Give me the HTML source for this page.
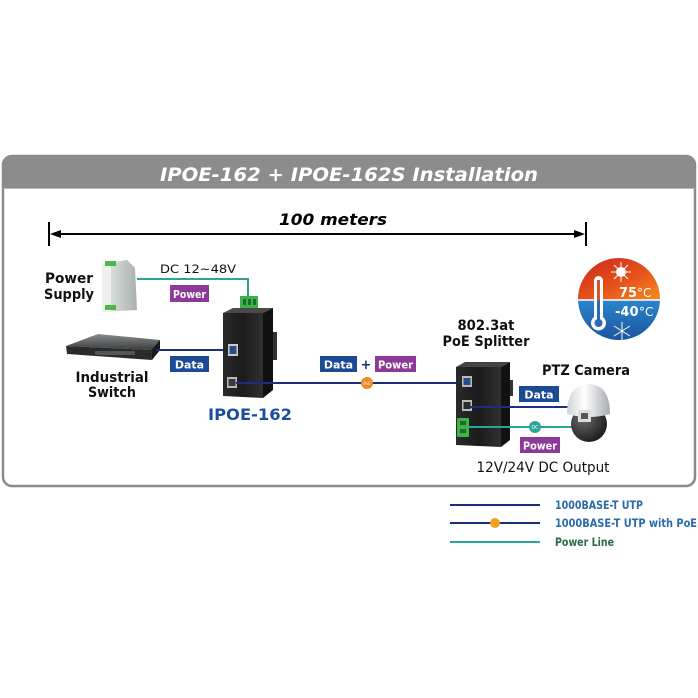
<!DOCTYPE html>
<html><head><meta charset="utf-8"><style>
html,body{margin:0;padding:0;background:#fff;}
svg{display:block;}
text{font-family:"DejaVu Sans","Liberation Sans",sans-serif;}
</style></head><body>
<svg width="698" height="698" viewBox="0 0 698 698" xmlns="http://www.w3.org/2000/svg">
<defs>
<linearGradient id="hot" x1="0" y1="0" x2="1" y2="1"><stop offset="0" stop-color="#c8201c"/><stop offset="0.6" stop-color="#e8561c"/><stop offset="1" stop-color="#f4921e"/></linearGradient>
<linearGradient id="cold" x1="0" y1="0" x2="0" y2="1"><stop offset="0" stop-color="#2a86cc"/><stop offset="1" stop-color="#1a4f98"/></linearGradient>
<linearGradient id="psu" x1="0" y1="0" x2="1" y2="0"><stop offset="0" stop-color="#e4e8e6"/><stop offset="0.5" stop-color="#c9cfcc"/><stop offset="1" stop-color="#a9b0ad"/></linearGradient>
<linearGradient id="dev" x1="0" y1="0" x2="1" y2="0"><stop offset="0" stop-color="#2a2a2a"/><stop offset="0.5" stop-color="#1b1b1b"/><stop offset="1" stop-color="#303030"/></linearGradient>
<linearGradient id="dome" x1="0" y1="0" x2="1" y2="0"><stop offset="0" stop-color="#cfd2d4"/><stop offset="0.4" stop-color="#ffffff"/><stop offset="1" stop-color="#a8acb0"/></linearGradient>
<radialGradient id="ball" cx="0.35" cy="0.35" r="0.8"><stop offset="0" stop-color="#6a6a6a"/><stop offset="1" stop-color="#111"/></radialGradient>
<linearGradient id="sw" x1="0" y1="0" x2="0" y2="1"><stop offset="0" stop-color="#8a8c8e"/><stop offset="1" stop-color="#3a3c3e"/></linearGradient>
<clipPath id="circ"><circle cx="619" cy="299" r="41"/></clipPath>
</defs>

<!-- frame -->
<rect x="3" y="156" width="692" height="330" rx="9" fill="#fff" stroke="#8a8a8a" stroke-width="2.5"/>
<path d="M3,188 V165 Q3,156 12,156 H686 Q695,156 695,165 V188 Z" fill="#8c8c8c"/>
<line x1="3" y1="188.5" x2="695" y2="188.5" stroke="#b8b8b8" stroke-width="1"/>
<text x="349" y="181" text-anchor="middle" font-size="19" font-weight="bold" font-style="italic" fill="#fff" textLength="378" lengthAdjust="spacingAndGlyphs">IPOE-162 + IPOE-162S Installation</text>

<!-- 100 meters -->
<text x="333" y="225" text-anchor="middle" font-size="16" font-weight="bold" font-style="italic" fill="#000" textLength="108" lengthAdjust="spacingAndGlyphs">100 meters</text>
<line x1="55" y1="234" x2="580" y2="234" stroke="#000" stroke-width="2"/>
<line x1="49" y1="222" x2="49" y2="246" stroke="#000" stroke-width="2"/>
<line x1="586" y1="222" x2="586" y2="246" stroke="#000" stroke-width="2"/>
<polygon points="50,234 61,230 61,238" fill="#000"/>
<polygon points="585,234 574,230 574,238" fill="#000"/>

<!-- power supply -->
<text x="69" y="283" text-anchor="middle" font-size="14" font-weight="bold" fill="#111" textLength="48" lengthAdjust="spacingAndGlyphs">Power</text>
<text x="69" y="299" text-anchor="middle" font-size="14" font-weight="bold" fill="#111" textLength="50" lengthAdjust="spacingAndGlyphs">Supply</text>
<path d="M102,264 L127,260 L135,268 L137,310 L102,312 Z" fill="url(#psu)"/>
<rect x="102" y="264" width="9" height="48" fill="#eef0ef"/>
<rect x="105" y="261" width="11" height="5" fill="#4cb84a"/>
<rect x="105" y="305" width="11" height="5" fill="#4cb84a"/>

<!-- DC line -->
<text x="160" y="273" font-size="11.5" fill="#111" textLength="76" lengthAdjust="spacingAndGlyphs">DC 12~48V</text>
<path d="M137,279 H248 V298" fill="none" stroke="#2aa597" stroke-width="2"/>
<rect x="170" y="285" width="39" height="17" fill="#8b3a98"/>
<text x="189.5" y="298" text-anchor="middle" font-size="11" font-weight="bold" fill="#fff" textLength="33" lengthAdjust="spacingAndGlyphs">Power</text>

<!-- switch -->
<polygon points="66,346 98,334 160,340 151,350" fill="url(#sw)"/>
<polygon points="66,346 151,350 152,360 67,354" fill="#2a2b2d"/>
<polygon points="151,350 160,340 160,350 152,360" fill="#1a1a1a"/>
<rect x="95" y="351" width="40" height="4" fill="#555"/>
<text x="112" y="382" text-anchor="middle" font-size="14" font-weight="bold" fill="#111" textLength="73" lengthAdjust="spacingAndGlyphs">Industrial</text>
<text x="112" y="397" text-anchor="middle" font-size="14" font-weight="bold" fill="#111" textLength="48" lengthAdjust="spacingAndGlyphs">Switch</text>

<!-- data line switch -> IPOE -->
<line x1="156" y1="350" x2="232" y2="350" stroke="#1c2f7a" stroke-width="2"/>
<rect x="170" y="356" width="39" height="16" fill="#1a4b94"/>
<text x="189.5" y="368.5" text-anchor="middle" font-size="11" font-weight="bold" fill="#fff">Data</text>

<!-- IPOE-162 device -->
<rect x="240" y="296" width="18" height="14" fill="#3cb34a"/>
<rect x="243" y="299" width="3" height="6" fill="#1f6b2a"/><rect x="248" y="299" width="3" height="6" fill="#1f6b2a"/><rect x="253" y="299" width="3" height="6" fill="#1f6b2a"/>
<polygon points="223,313 233,308 273,308 263,313" fill="#4a4a4a"/>
<polygon points="223,313 263,313 263,398 223,396" fill="url(#dev)"/>
<polygon points="263,313 273,308 273,390 263,398" fill="#111"/>
<rect x="273" y="332" width="4" height="28" fill="#333"/>
<rect x="228" y="344" width="10" height="12" fill="#ccc"/>
<rect x="229.5" y="346" width="7" height="8" fill="#2a4a8a"/>
<rect x="227" y="377" width="10" height="11" fill="#bbb"/>
<rect x="228.5" y="379" width="7" height="7" fill="#3a3a3a"/>
<text x="250" y="420" text-anchor="middle" font-size="16" font-weight="bold" fill="#1b4f9c" textLength="84" lengthAdjust="spacingAndGlyphs">IPOE-162</text>

<!-- PoE line -->
<line x1="236" y1="383" x2="466" y2="383" stroke="#1c2f7a" stroke-width="2"/>
<circle cx="367" cy="383" r="6" fill="#f08a1e"/>
<text x="367" y="385" text-anchor="middle" font-size="4" fill="#fff">PoE</text>
<rect x="320" y="356" width="37" height="16" fill="#1a4b94"/>
<text x="338.5" y="368.5" text-anchor="middle" font-size="11" font-weight="bold" fill="#fff">Data</text>
<text x="366" y="369" text-anchor="middle" font-size="13" font-weight="bold" fill="#1b2f6a">+</text>
<rect x="375" y="356" width="41" height="16" fill="#8b3a98"/>
<text x="395.5" y="368.5" text-anchor="middle" font-size="11" font-weight="bold" fill="#fff" textLength="35" lengthAdjust="spacingAndGlyphs">Power</text>

<!-- Splitter -->
<text x="486" y="330" text-anchor="middle" font-size="14" font-weight="bold" fill="#111" textLength="57" lengthAdjust="spacingAndGlyphs">802.3at</text>
<text x="486" y="346" text-anchor="middle" font-size="14" font-weight="bold" fill="#111" textLength="87" lengthAdjust="spacingAndGlyphs">PoE Splitter</text>
<polygon points="456,367 465,362 510,362 501,367" fill="#444"/>
<polygon points="456,367 501,367 501,447 456,445" fill="url(#dev)"/>
<polygon points="501,367 510,362 510,440 501,447" fill="#111"/>
<rect x="510" y="380" width="3" height="16" fill="#333"/>
<rect x="462" y="376" width="10" height="11" fill="#bbb"/>
<rect x="463.5" y="378" width="7" height="7" fill="#2a4a8a"/>
<rect x="462" y="400" width="10" height="11" fill="#bbb"/>
<rect x="463.5" y="402" width="7" height="7" fill="#2a2a2a"/>
<rect x="457" y="418" width="12" height="19" fill="#3cb34a"/>
<rect x="460" y="421" width="6" height="4" fill="#1f6b2a"/><rect x="460" y="429" width="6" height="4" fill="#1f6b2a"/>

<!-- splitter -> camera -->
<line x1="470" y1="407" x2="572" y2="407" stroke="#1c2f7a" stroke-width="2"/>
<rect x="519" y="386" width="40" height="16" fill="#1a4b94"/>
<text x="539" y="398.5" text-anchor="middle" font-size="11" font-weight="bold" fill="#fff">Data</text>
<line x1="469" y1="427" x2="574" y2="427" stroke="#2aa597" stroke-width="2"/>
<circle cx="535" cy="427" r="6" fill="#2aa597"/>
<text x="535" y="429" text-anchor="middle" font-size="5" fill="#fff">DC</text>
<rect x="520" y="437" width="40" height="16" fill="#8b3a98"/>
<text x="540" y="449.5" text-anchor="middle" font-size="11" font-weight="bold" fill="#fff" textLength="34" lengthAdjust="spacingAndGlyphs">Power</text>
<text x="543" y="472" text-anchor="middle" font-size="14" fill="#111" textLength="133" lengthAdjust="spacingAndGlyphs">12V/24V DC Output</text>

<!-- camera -->
<text x="586" y="375" text-anchor="middle" font-size="14" font-weight="bold" fill="#111" textLength="88" lengthAdjust="spacingAndGlyphs">PTZ Camera</text>
<circle cx="589" cy="424" r="18" fill="url(#ball)"/>
<path d="M567,414 Q567,385 589,384 Q610,385 610,414 Q589,420 567,414 Z" fill="url(#dome)"/>
<rect x="578" y="410" width="13" height="12" fill="#ddd"/>
<rect x="581" y="413" width="7" height="6" fill="#555"/>

<!-- temperature icon -->
<g clip-path="url(#circ)">
<rect x="575" y="255" width="90" height="45" fill="url(#hot)"/>
<rect x="575" y="300" width="90" height="45" fill="url(#cold)"/>
</g>
<line x1="578" y1="300" x2="660" y2="300" stroke="#fff" stroke-width="1.5"/>
<rect x="594" y="276" width="9" height="44" rx="4.5" fill="#fff"/>
<circle cx="598.5" cy="323" r="7.5" fill="#fff"/>
<rect x="597" y="280" width="3" height="40" fill="#e05020"/>
<circle cx="598.5" cy="323" r="4" fill="#2a6ab8"/>
<rect x="597" y="300" width="3" height="22" fill="#2a6ab8"/>
<circle cx="621" cy="272" r="5" fill="#fff"/>
<g stroke="#fff" stroke-width="1">
<line x1="621" y1="262" x2="621" y2="282"/><line x1="611" y1="272" x2="631" y2="272"/>
<line x1="614" y1="265" x2="628" y2="279"/><line x1="628" y1="265" x2="614" y2="279"/>
<line x1="622" y1="322" x2="622" y2="340"/><line x1="614" y1="326" x2="630" y2="336"/><line x1="630" y1="326" x2="614" y2="336"/>
</g>
<text x="619" y="297" font-size="13" font-weight="bold" fill="#fff">75</text><text x="637" y="297" font-size="12" fill="#fff">°C</text>
<text x="615" y="316" font-size="13" font-weight="bold" fill="#fff">-40</text><text x="639" y="316" font-size="12" fill="#fff">°C</text>

<!-- legend -->
<line x1="450" y1="505" x2="540" y2="505" stroke="#1c2f7a" stroke-width="2"/>
<text x="555" y="509" font-size="11.5" font-weight="600" fill="#2a6aaa" textLength="88" lengthAdjust="spacingAndGlyphs">1000BASE-T UTP</text>
<line x1="450" y1="523" x2="540" y2="523" stroke="#1c2f7a" stroke-width="2"/>
<circle cx="495" cy="523" r="5" fill="#f0a020"/>
<text x="555" y="527" font-size="11.5" font-weight="600" fill="#2a6aaa" textLength="142" lengthAdjust="spacingAndGlyphs">1000BASE-T UTP with PoE</text>
<line x1="450" y1="542" x2="540" y2="542" stroke="#2aa597" stroke-width="2"/>
<text x="555" y="546" font-size="11.5" font-weight="600" fill="#2a6a48" textLength="59" lengthAdjust="spacingAndGlyphs">Power Line</text>
</svg>
</body></html>
